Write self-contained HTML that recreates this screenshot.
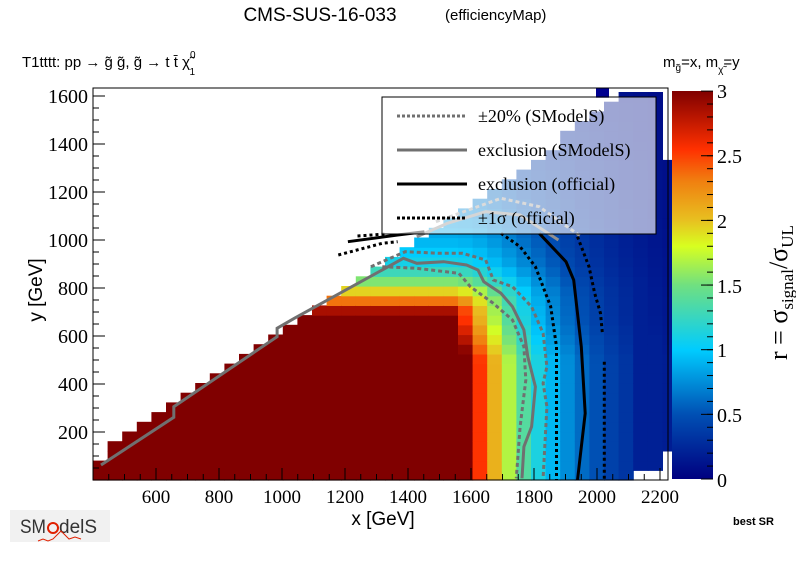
<!DOCTYPE html>
<html><head><meta charset="utf-8"><style>
body{margin:0;background:#fff;width:796px;height:572px;overflow:hidden}
svg{display:block}
.s{font-family:"Liberation Sans",sans-serif}
.t{font-family:"Liberation Serif",serif}
</style></head><body>
<svg id="c" width="796" height="572" xmlns="http://www.w3.org/2000/svg">
<g id="heat"></g>
<g id="lines" fill="none"></g>
<rect x="382" y="97" width="274" height="137" fill="#fff" fill-opacity="0.62" stroke="#000" stroke-width="1"/>
<g class="t" font-size="18" fill="#000">
<line x1="397" y1="116" x2="467" y2="116" stroke="#707070" stroke-width="3" stroke-dasharray="3,2"/>
<text x="478" y="122">±20% (SModelS)</text>
<line x1="397" y1="150" x2="467" y2="150" stroke="#707070" stroke-width="3"/>
<text x="478" y="156">exclusion (SModelS)</text>
<line x1="397" y1="184" x2="467" y2="184" stroke="#000" stroke-width="3"/>
<text x="478" y="190">exclusion (official)</text>
<line x1="397" y1="218" x2="467" y2="218" stroke="#000" stroke-width="3" stroke-dasharray="3,2"/>
<text x="478" y="224">±1σ (official)</text>
</g>
<rect x="93" y="88" width="575" height="392" fill="none" stroke="#000" stroke-width="1"/>
<g id="ticks" stroke="#000" stroke-width="1"></g>
<g id="tl" class="t" font-size="20" fill="#000"></g>
<defs><linearGradient id="cb" x1="0" y1="1" x2="0" y2="0">
<stop offset="0" stop-color="#000080"/><stop offset="0.167" stop-color="#0050b4"/>
<stop offset="0.333" stop-color="#00ccff"/><stop offset="0.5" stop-color="#70e080"/>
<stop offset="0.6" stop-color="#d8ff20"/><stop offset="0.667" stop-color="#e8c020"/>
<stop offset="0.767" stop-color="#f08010"/><stop offset="0.85" stop-color="#ff3000"/>
<stop offset="1" stop-color="#800000"/></linearGradient></defs>
<rect x="672" y="91" width="41" height="388" fill="url(#cb)"/>
<g id="cbt" stroke="#000"></g>
<g class="t" font-size="20" fill="#000">
<text x="717" y="98">3</text><text x="717" y="163">2.5</text><text x="717" y="228">2</text>
<text x="717" y="293">1.5</text><text x="717" y="357">1</text><text x="717" y="422">0.5</text><text x="717" y="487">0</text>
</g>
<text class="t" font-size="26" fill="#000" transform="translate(787,360) rotate(-90)">r = σ<tspan font-size="17" dy="6">signal</tspan><tspan dy="-6">/σ</tspan><tspan font-size="17" dy="6">UL</tspan></text>
<text class="s" x="320" y="21" font-size="19" text-anchor="middle">CMS-SUS-16-033</text>
<text class="s" x="445" y="20" font-size="15">(efficiencyMap)</text>
<text class="s" x="22" y="67" font-size="15">T1tttt: pp  → g̃ g̃, g̃  → t t̄  χ̃<tspan font-size="10" dy="-9">0</tspan><tspan font-size="10" dx="-6" dy="17">1</tspan></text>
<text class="s" x="663" y="67" font-size="15">m<tspan font-size="10" dy="4">g̃</tspan><tspan dy="-4">=x, m</tspan><tspan font-size="10" dy="6">χ̃</tspan><tspan dy="-6">=y</tspan></text>
<text class="s" x="383" y="525" font-size="19" text-anchor="middle">x [GeV]</text>
<text class="s" font-size="19" text-anchor="middle" transform="translate(42,290) rotate(-90)">y [GeV]</text>
<text class="s" x="733" y="525" font-size="11" font-weight="bold">best SR</text>
<g>
<rect x="10" y="510" width="100" height="32" fill="#ddd" opacity="0.4"/>
<text class="s" x="20" y="533" font-size="19" fill="#333" textLength="26" lengthAdjust="spacingAndGlyphs">SM</text>
<circle cx="53" cy="528" r="5" fill="none" stroke="#e02000" stroke-width="2"/>
<text class="s" x="59" y="533" font-size="19" fill="#333">delS</text>
<path d="M38 541 l5 -2 5 2 5-2 l8 -8 8 8 6-2 6 2" stroke="#e02000" fill="none"/>
</g>
</svg>
<script>
const NS="http://www.w3.org/2000/svg";
function el(p,t,a){const e=document.createElementNS(NS,t);for(const k in a)e.setAttribute(k,a[k]);document.getElementById(p).appendChild(e);return e;}
const stops=[[0,[0,0,128]],[0.5,[0,80,180]],[1,[0,204,255]],[1.5,[112,224,128]],[1.8,[216,255,32]],[2,[232,192,32]],[2.3,[240,128,16]],[2.55,[255,48,0]],[3,[128,0,0]]];
function col(r){r=Math.max(0,Math.min(3,r));for(let i=1;i<stops.length;i++){if(r<=stops[i][0]){const a=stops[i-1],b=stops[i];const f=(r-a[0])/(b[0]-a[0]);return "rgb("+a[1].map((v,j)=>Math.round(v+(b[1][j]-v)*f)).join(",")+")";}}return "rgb(128,0,0)";}
function xg(px){return 600+(px-156)/0.315;}
function yg(py){return (480-py)/0.24;}
const dp=[[0,0],[5,10],[15,22],[25,37],[35,55],[50,72],[70,85],[107,103],[220,160]];
function Dy(d){if(d<=0)return 0;for(let i=1;i<dp.length;i++){if(d<=dp[i][0]){const a=dp[i-1],b=dp[i];return a[1]+(b[1]-a[1])*(d-a[0])/(b[0]-a[0]);}}return 160;}
const cw=14.6,ch=9.7;
for(let i=0;i<40;i++){for(let j=0;j<41;j++){
 const x0=93+i*cw, y1=480-j*ch, y0=y1-ch; if(x0>=667)continue;
 const cx=x0+cw/2, cy=y0+ch/2; if(y0<86)continue;
 const X=xg(cx),Y=yg(cy);
 if(Y>62+0.9*(X-425)+40)continue;
 if(cx>658&&(cy>450||cy<159))continue;
 if(cx>639&&cy>470)continue;
 let cyr=312;
 let cxr = cy>360?468:(cy<315?452:452+16*(cy-315)/45);
 const dx=Math.max(0,cx-cxr), dy=Dy(cyr-cy);
 const D=Math.sqrt(dx*dx+dy*dy);
 let r=3*Math.exp(-D/71.6);
 if(cx>640)r=Math.min(r,0.2);
 el("heat","rect",{x:x0.toFixed(1),y:Math.max(88,y0).toFixed(1),width:(cw+0.6).toFixed(1),height:(Math.min(ch,y1-88)+0.6).toFixed(1),fill:col(r)});
}}
el("heat","rect",{x:596,y:88,width:13,height:10,fill:"#000090"});
function P(a){let s="";for(let i=0;i<a.length;i+=2)s+=(i?"L":"M")+(a[i]/2.613+80).toFixed(1)+" "+(a[i+1]/3+80).toFixed(1);return s;}
function L(g,a,st,w,d,op){const o={d:P(a),stroke:st,"stroke-width":w};if(d)o["stroke-dasharray"]=d;if(op)o.opacity=op;el(g,"path",o);}
L("lines",[55,1155,245,1012,245,980,515,770,515,745,560,715,845,535,880,550,950,545,1010,555,1040,570,1055,605,1100,640,1130,680,1160,750,1170,830,1190,920,1180,1040,1160,1100,1155,1195],"#707070",3);
L("lines",[880,470,960,430,1060,395,1150,405,1250,480],"#909090",3);
L("lines",[760,560,850,515,940,520,1000,520,1060,540,1080,600,1130,620,1180,680,1210,760,1220,860,1210,910,1220,980,1210,1195],"#707070",3,"4,3");
L("lines",[790,560,880,565,990,580,1020,620,1080,670,1130,720,1160,800,1165,900,1150,1040,1140,1195],"#707070",3,"4,3");
L("lines",[930,425,1100,355,1200,380,1310,470],"#a0a0a0",3,"4,3");
L("lines",[700,485,830,465,900,455],"#000",3);
L("lines",[1200,460,1270,545,1290,600,1310,800,1320,1000,1300,1200],"#000",3);
L("lines",[1100,460,1150,500,1190,560,1230,680,1245,800,1245,1000,1245,1200],"#000",3,"3,3");
L("lines",[675,525,790,490,830,485],"#000",3,"3,3");
L("lines",[725,468,800,462],"#000",3,"3,3");
L("lines",[1300,470,1330,560,1345,640,1360,700,1365,760],"#000",3,"3,3");
L("lines",[1370,845,1370,1200],"#000",3,"3,3");
for(let g=400;g<=2225;g+=50){const px=156+(g-600)*0.315;if(px<93||px>668)continue;const m=g%200==0;el("ticks","line",{x1:px,y1:480,x2:px,y2:m?468:474});
 if(m&&g>=600){const t=el("tl","text",{x:px,y:503,"text-anchor":"middle","font-size":19});t.textContent=g;}}
for(let g=50;g<=1630;g+=50){const py=480-g*0.24;const m=g%200==0;el("ticks","line",{x1:93,y1:py,x2:m?105:99,y2:py});
 if(m){const t=el("tl","text",{x:88,y:py+7,"text-anchor":"end"});t.textContent=g;}}
for(let v=0;v<=3;v+=0.5){const py=479-v*129.3;el("cbt","line",{x1:701,y1:py,x2:713,y2:py});}
for(let v=0.1;v<3;v+=0.1){const py=479-v*129.3;el("cbt","line",{x1:707,y1:py,x2:713,y2:py});}
</script>
</body></html>
